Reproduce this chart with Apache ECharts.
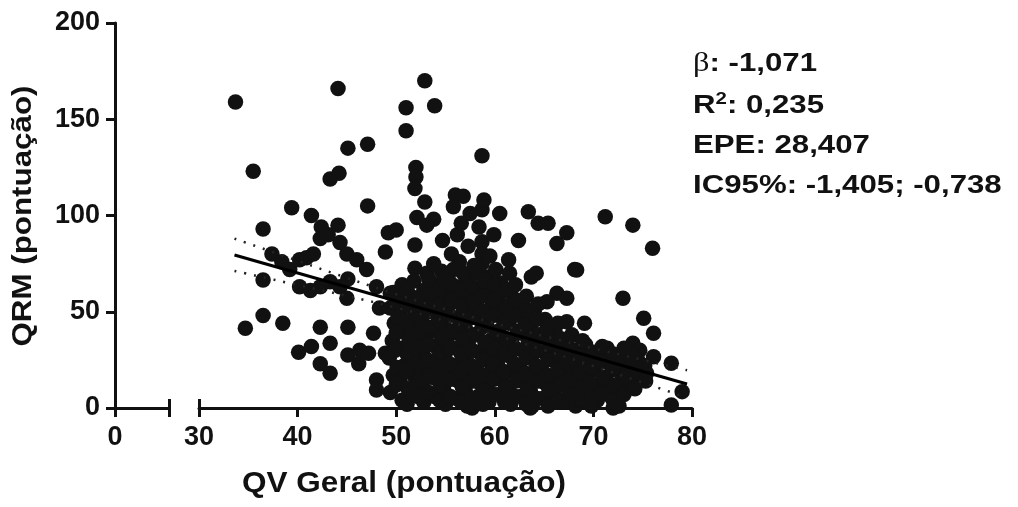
<!DOCTYPE html>
<html>
<head>
<meta charset="utf-8">
<script src="https://cdn.jsdelivr.net/npm/echarts@6/dist/echarts.min.js"></script>
<style>
  html, body { margin: 0; padding: 0; background: #fff; }
  #chart { width: 1018px; height: 507px; }
</style>
</head>
<body>
<div id="chart"></div>
<script>
// pontos isolados (QV Geral, QRM)
const pontosEsparsos = [
  [33.7, 159], [44.1, 166], [52.9, 170], [51.0, 156], [53.9, 157], [51.0, 144],
  [45.1, 135], [47.1, 137], [35.5, 123], [43.3, 119], [44.2, 122], [52.0, 125],
  [52.0, 120], [51.9, 114], [52.9, 107], [47.1, 105], [39.4, 104], [41.4, 100],
  [42.4, 94], [44.1, 95], [43.1, 90], [42.3, 88], [36.5, 93], [52.1, 99],
  [53.8, 98], [53.1, 95], [49.2, 91], [50.0, 92.5], [48.9, 81], [54.7, 87],
  [37.4, 80], [38.4, 76], [39.2, 72], [40.2, 77], [40.9, 78], [41.6, 80],
  [44.3, 86], [45.0, 80], [46.0, 77], [47.0, 72], [36.5, 66.5], [40.2, 63],
  [41.3, 61], [42.3, 63], [43.3, 65.6], [44.3, 63], [45.1, 67], [45.0, 57],
  [48.0, 63], [49.4, 59.6], [48.3, 52], [51.9, 84.7], [51.9, 72.6], [53.1, 70], [53.8, 75],
  [36.5, 48], [34.7, 41.4], [38.5, 44], [42.3, 42], [45.1, 42], [40.1, 29],
  [41.4, 32], [43.3, 33.6], [42.3, 23], [43.3, 18], [45.1, 27.5], [46.3, 30],
  [46.2, 23], [47.2, 28.4], [48.0, 14.5], [48.0, 9.4], [47.7, 38.8], [48.9, 28.4],
  [58.7, 131], [56.0, 110.6], [56.8, 110], [55.8, 104.6], [57.5, 101], [58.7, 103],
  [60.5, 101], [63.4, 102], [64.4, 96], [65.4, 96], [71.2, 99.4], [74.0, 95],
  [76.0, 83], [67.3, 91], [66.3, 85.5], [62.4, 87], [58.7, 86.4], [58.7, 80],
  [58.7, 75], [61.4, 77], [55.8, 72], [61.5, 70], [63.7, 68], [64.2, 70],
  [68.1, 72], [66.3, 59.6], [67.3, 57], [73.0, 57], [75.1, 46.6], [76.1, 38.8],
  [67.3, 44.8], [69.1, 44], [77.9, 23.2], [79.0, 8.5], [77.9, 1.6], [74.0, 33.6],
  [74.7, 30], [76.1, 26.6], [75.4, 18], [57.7, 0], [63.6, 0], [72.0, 0],
  [68.3, 71.7], [65.3, 55.2]
]

// nuvem densa
const pontosDensos = [
  [49.4, 8], [49.7, 17], [49.3, 26], [49.6, 35], [49.8, 44], [49.4, 52], [49.7, 60],
  [50.6, 4], [50.4, 14], [50.8, 22], [50.5, 31], [50.7, 40], [50.4, 48], [50.8, 57], [50.6, 64],
  [51.7, 7], [51.9, 16], [51.5, 25], [51.8, 33], [51.6, 42], [51.9, 50], [51.5, 58], [51.8, 66],
  [52.8, 3], [52.6, 11], [53.0, 20], [52.7, 28], [52.9, 37], [52.6, 45], [53.0, 53], [52.8, 61],
  [53.9, 6], [54.1, 15], [53.7, 24], [54.0, 32], [53.8, 40], [54.1, 49], [53.7, 57], [54.0, 64],
  [55.0, 2], [54.8, 10], [55.2, 19], [54.9, 27], [55.1, 35], [54.8, 44], [55.2, 52], [55.0, 60], [54.9, 68],
  [56.1, 5], [56.3, 14], [55.9, 22], [56.2, 31], [56.0, 39], [56.3, 47], [55.9, 56], [56.1, 63], [56.4, 76], [56.2, 90],
  [57.2, 1], [57.0, 9], [57.4, 18], [57.1, 26], [57.3, 34], [57.0, 42], [57.4, 51], [57.2, 59], [57.1, 67], [57.3, 84],
  [58.3, 6], [58.5, 13], [58.1, 21], [58.4, 29], [58.2, 38], [58.5, 46], [58.1, 54], [58.4, 62], [58.2, 70], [58.4, 94],
  [59.4, 3], [59.2, 11], [59.6, 19], [59.3, 27], [59.5, 35], [59.2, 43], [59.6, 52], [59.4, 60], [59.3, 68], [59.5, 79],
  [60.5, 7], [60.7, 15], [60.3, 24], [60.6, 32], [60.4, 40], [60.7, 49], [60.3, 57], [60.6, 65],
  [61.6, 2], [61.4, 10], [61.8, 19], [61.5, 27], [61.7, 35], [61.4, 44], [61.8, 52], [61.6, 60],
  [62.7, 6], [62.9, 14], [62.5, 22], [62.8, 30], [62.6, 39], [62.9, 47], [62.5, 55],
  [63.8, 1], [63.6, 9], [64.0, 18], [63.7, 26], [63.9, 34], [63.6, 42], [64.0, 50],
  [64.9, 5], [65.1, 13], [64.7, 21], [65.0, 29], [64.8, 37], [65.1, 46],
  [66.0, 8], [65.8, 16], [66.2, 24], [65.9, 32], [66.1, 40],
  [67.1, 3], [67.3, 11], [66.9, 19], [67.2, 27], [67.0, 35],
  [68.2, 1], [68.0, 8], [68.4, 14], [68.1, 22], [68.3, 30],
  [69.3, 9], [69.1, 17], [69.5, 25], [69.2, 33],
  [70.4, 4], [70.6, 12], [70.2, 20], [70.5, 28],
  [71.5, 7], [71.3, 15], [71.7, 23], [71.4, 31],
  [72.6, 1], [72.4, 10], [72.8, 18], [72.5, 26],
  [73.7, 13], [73.5, 21], [73.9, 29],
  [74.8, 16], [74.6, 24],
  // segunda camada, intercalada
  [50.0, 12], [50.1, 21], [49.9, 30], [50.0, 39], [50.2, 47], [50.0, 55],
  [51.1, 2], [51.2, 10], [51.0, 19], [51.1, 28], [51.3, 36], [51.0, 45], [51.2, 53], [51.1, 61],
  [52.2, 6], [52.3, 14], [52.1, 23], [52.2, 32], [52.4, 40], [52.1, 49], [52.3, 57],
  [53.3, 8], [53.4, 16], [53.2, 25], [53.3, 33], [53.5, 42], [53.2, 50], [53.4, 60], [53.3, 67],
  [54.4, 4], [54.5, 12], [54.3, 21], [54.4, 29], [54.6, 37], [54.3, 46], [54.5, 54], [54.4, 62], [54.6, 71],
  [55.5, 6], [55.6, 15], [55.4, 23], [55.5, 31], [55.7, 40], [55.4, 48], [55.6, 56], [55.5, 65], [55.6, 80],
  [56.6, 3], [56.7, 11], [56.5, 19], [56.6, 28], [56.8, 36], [56.5, 44], [56.7, 53], [56.6, 61], [56.8, 70], [56.6, 96],
  [57.7, 5], [57.8, 14], [57.6, 22], [57.7, 30], [57.9, 38], [57.6, 47], [57.8, 55], [57.7, 63], [57.9, 74],
  [58.8, 2], [58.9, 9], [58.7, 17], [58.8, 25], [59.0, 34], [58.7, 42], [58.9, 50], [58.8, 58], [59.0, 66], [58.9, 108],
  [59.9, 7], [60.0, 15], [59.8, 23], [59.9, 31], [60.1, 39], [59.8, 48], [60.0, 56], [59.9, 64], [60.1, 72], [59.9, 90],
  [61.0, 3], [61.1, 11], [60.9, 19], [61.0, 28], [61.2, 36], [60.9, 45], [61.1, 53], [61.0, 61],
  [62.1, 6], [62.2, 14], [62.0, 23], [62.1, 31], [62.3, 40], [62.0, 48], [62.2, 56], [62.1, 64],
  [63.2, 2], [63.3, 10], [63.1, 18], [63.2, 26], [63.4, 35], [63.1, 43], [63.3, 51], [63.2, 58],
  [64.3, 5], [64.4, 14], [64.2, 22], [64.3, 30], [64.5, 38], [64.2, 46], [64.4, 54],
  [65.4, 1], [65.5, 9], [65.3, 17], [65.4, 25], [65.6, 33], [65.3, 41],
  [66.5, 4], [66.6, 12], [66.4, 20], [66.5, 28], [66.7, 36], [66.4, 44],
  [67.6, 7], [67.7, 15], [67.5, 23], [67.6, 31], [67.8, 38],
  [68.7, 4], [68.8, 11], [68.6, 19], [68.7, 27], [68.9, 35],
  [69.8, 1], [69.9, 6], [69.7, 13], [69.8, 21], [70.0, 29],
  [70.9, 8], [71.0, 16], [70.8, 24], [70.9, 32],
  [72.0, 4], [72.1, 12], [71.9, 20], [72.0, 28],
  [73.1, 7], [73.2, 16], [73.0, 24], [73.1, 31],
  [74.2, 10], [74.3, 18], [74.1, 26],
  [75.3, 14], [75.2, 22]
]

// reta de regressao e IC95%
const retaX = [33.6, 79.5]
const retaY = [79.5, 12.5]
const icX = [33.6, 40, 45, 50, 55, 60, 65, 70, 75, 79.5]
const icSup = [88, 76.5, 67.6, 59.1, 51.3, 44, 37.3, 31, 25, 19.6]
const icInf = [71.2, 63.9, 58.2, 52.1, 45.3, 38, 30.1, 21.8, 13.2, 5.4]

const anotacoes = ['-1,071', '0,235', '28,407', '-1,405; -0,738']

const FONTE = '"Liberation Sans", Arial, sans-serif'
const COR = '#111'

const chart = echarts.init(document.getElementById('chart'))

const eixoBase = {
  type: 'value',
  splitLine: { show: false },
  axisLine: { lineStyle: { color: COR, width: 3 } },
  axisTick: { length: 9, lineStyle: { color: COR, width: 3 } },
  axisLabel: { color: COR, fontFamily: FONTE, fontWeight: 'bold', fontSize: 27, margin: 16 }
}

const txtAnot = { fontFamily: FONTE, fontWeight: 'bold', fontSize: 26, fill: COR }

chart.setOption({
  animation: false,
  backgroundColor: '#fff',
  grid: [
    { left: 115, width: 54, top: 23, height: 385 },
    { left: 199, width: 493, top: 23, height: 385 }
  ],
  xAxis: [
    Object.assign({}, eixoBase, {
      gridIndex: 0, min: 0, max: 10, interval: 10,
      axisTick: Object.assign({}, eixoBase.axisTick, { customValues: [0, 10] }),
      axisLabel: Object.assign({}, eixoBase.axisLabel, { customValues: [0] })
    }),
    {
      type: 'value', gridIndex: 0, min: 0, max: 10, position: 'bottom',
      splitLine: { show: false }, axisLine: { show: false }, axisLabel: { show: false },
      axisTick: { inside: true, length: 9, customValues: [10], lineStyle: { color: COR, width: 3 } }
    },
    Object.assign({}, eixoBase, { gridIndex: 1, min: 30, max: 80, interval: 10 }),
    {
      type: 'value', gridIndex: 1, min: 30, max: 80, position: 'bottom',
      splitLine: { show: false }, axisLine: { show: false }, axisLabel: { show: false },
      axisTick: { inside: true, length: 9, customValues: [30], lineStyle: { color: COR, width: 3 } }
    }
  ],
  yAxis: [
    Object.assign({}, eixoBase, {
      gridIndex: 0, min: 0, max: 200, interval: 50,
      axisLabel: Object.assign({}, eixoBase.axisLabel, { margin: 15 })
    }),
    { type: 'value', gridIndex: 1, min: 0, max: 200, show: false }
  ],
  series: [
    {
      type: 'scatter',
      xAxisIndex: 2, yAxisIndex: 1,
      symbolSize: 15.5,
      itemStyle: { color: COR, opacity: 1 },
      data: pontosEsparsos.concat(pontosDensos)
    },
    {
      type: 'line',
      xAxisIndex: 2, yAxisIndex: 1,
      symbol: 'none', z: 5,
      lineStyle: { color: '#000', width: 3 },
      data: retaX.map((x, i) => [x, retaY[i]])
    },
    {
      type: 'line',
      xAxisIndex: 2, yAxisIndex: 1,
      symbol: 'none', smooth: true, z: 5,
      lineStyle: { color: '#222', width: 2.5, type: [2, 8] },
      data: icX.map((x, i) => [x, icSup[i]])
    },
    {
      type: 'line',
      xAxisIndex: 2, yAxisIndex: 1,
      symbol: 'none', smooth: true, z: 5,
      lineStyle: { color: '#222', width: 2.5, type: [2, 8] },
      data: icX.map((x, i) => [x, icInf[i]])
    }
  ],
  graphic: [
    {
      type: 'text', x: 404, y: 484, scaleX: 1.05,
      style: { text: 'QV Geral (pontuação)', fontFamily: FONTE, fontWeight: 'bold', fontSize: 30, fill: COR, align: 'center', verticalAlign: 'middle' }
    },
    {
      type: 'text', x: 24, y: 216, rotation: Math.PI / 2, scaleX: 1.16,
      style: { text: 'QRM (pontuação)', fontFamily: FONTE, fontWeight: 'bold', fontSize: 27, fill: COR, align: 'center', verticalAlign: 'middle' }
    },
    {
      type: 'text', x: 693, y: 64, scaleX: 1.2,
      style: Object.assign({}, txtAnot, {
        text: '{g|β}: ' + anotacoes[0], verticalAlign: 'middle',
        rich: { g: { fontFamily: '"Liberation Serif", serif', fontWeight: 'normal', fontSize: 27, fill: COR } }
      })
    },
    {
      type: 'text', x: 693, y: 106, scaleX: 1.2,
      style: Object.assign({}, txtAnot, {
        text: 'R{s|2}: ' + anotacoes[1], verticalAlign: 'middle',
        rich: { s: { fontFamily: FONTE, fontWeight: 'bold', fontSize: 17, fill: COR, verticalAlign: 'top', padding: [0, 0, 14, 0] } }
      })
    },
    {
      type: 'text', x: 693, y: 146, scaleX: 1.2,
      style: Object.assign({}, txtAnot, { text: 'EPE: ' + anotacoes[2], verticalAlign: 'middle' })
    },
    {
      type: 'text', x: 693, y: 186, scaleX: 1.2,
      style: Object.assign({}, txtAnot, { text: 'IC95%: ' + anotacoes[3], verticalAlign: 'middle' })
    }
  ]
})
</script>
</body>
</html>
